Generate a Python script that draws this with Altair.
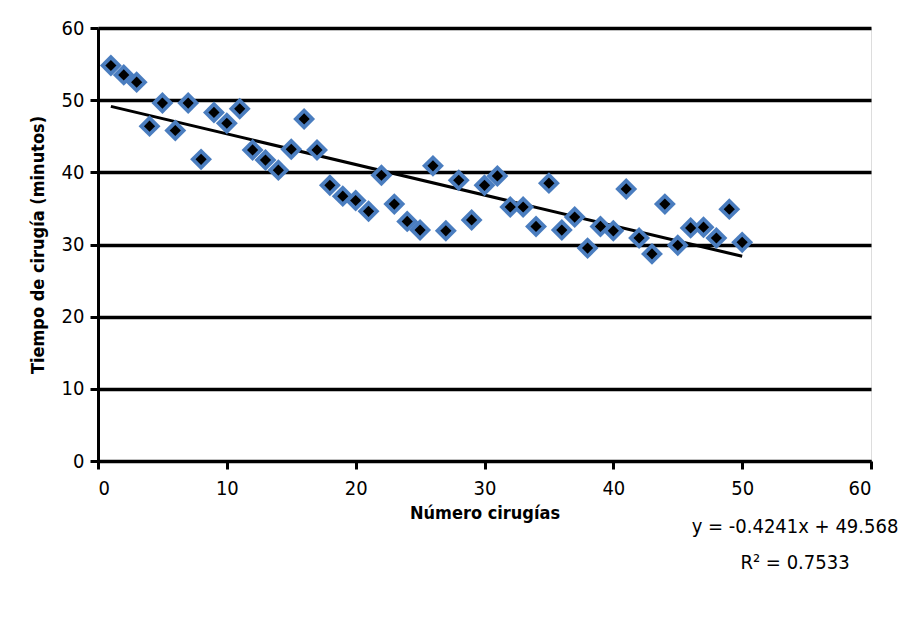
import altair as alt
import pandas as pd

surgery_no = list(range(1, 51))
minutes = [54.8, 53.5, 52.5, 46.4, 49.6, 45.8, 49.6, 41.8, 48.3, 46.8,
           48.8, 43.1, 41.7, 40.3, 43.2, 47.4, 43.1, 38.2, 36.7, 36.1,
           34.6, 39.6, 35.6, 33.2, 32.0, 40.9, 31.9, 38.9, 33.4, 38.2,
           39.5, 35.2, 35.2, 32.5, 38.5, 32.0, 33.8, 29.5, 32.5, 31.9,
           37.7, 30.9, 28.7, 35.6, 29.9, 32.3, 32.4, 30.9, 34.9, 30.3]
slope = -0.4241
intercept = 49.568
trend_x = [1, 50]
eq_lines = ["y = -0.4241x + 49.568", "R\u00b2 = 0.7533"]

FONT = "DejaVu Sans Condensed, Liberation Sans Narrow, Liberation Sans, sans-serif"

df = pd.DataFrame({"x": surgery_no, "y": minutes})
trend = pd.DataFrame({"x": trend_x, "y": [slope * v + intercept for v in trend_x]})

xs = alt.Scale(domain=[0, 60], nice=False, zero=False)
ys = alt.Scale(domain=[0, 60], nice=False)

xaxis = alt.Axis(values=list(range(0, 61, 10)), title="Número cirugías", grid=False,
                 domainColor="black", domainWidth=3, tickColor="black", tickWidth=3,
                 tickSize=8, labelFont=FONT, labelFontSize=20, labelColor="black",
                 labelPadding=9, titleFont=FONT, titleFontSize=18, titleFontWeight="bold",
                 titleColor="black", titlePadding=6)
yaxis = alt.Axis(values=list(range(0, 61, 10)), title="Tiempo de cirugía (minutos)", grid=True,
                 gridColor="black", gridWidth=3.5, gridOpacity=1,
                 domainColor="black", domainWidth=3, tickColor="black", tickWidth=3,
                 tickSize=8, labelFont=FONT, labelFontSize=20, labelColor="black",
                 labelPadding=6, titleFont=FONT, titleFontSize=18, titleFontWeight="bold",
                 titleColor="black", titlePadding=14)

base = alt.Chart(df)
outer = base.mark_point(shape="diamond", filled=True, color="#4a7dbf", size=480, opacity=1).encode(
    x=alt.X("x:Q", scale=xs, axis=xaxis),
    y=alt.Y("y:Q", scale=ys, axis=yaxis),
)
inner = base.mark_point(shape="diamond", filled=True, color="black", size=125, opacity=1).encode(
    x=alt.X("x:Q", scale=xs), y=alt.Y("y:Q", scale=ys)
)
line = alt.Chart(trend).mark_line(color="black", strokeWidth=3).encode(
    x=alt.X("x:Q", scale=xs), y=alt.Y("y:Q", scale=ys)
)
eq = alt.Chart(pd.DataFrame({"t": [eq_lines[0]]})).mark_text(
    font=FONT, fontSize=20, color="black", align="center", baseline="middle"
).encode(text="t:N", x=alt.value(697), y=alt.value(499))
r2 = alt.Chart(pd.DataFrame({"t": [eq_lines[1]]})).mark_text(
    font=FONT, fontSize=20, color="black", align="center", baseline="middle"
).encode(text="t:N", x=alt.value(697), y=alt.value(535))

chart = alt.layer(line, outer, inner, eq, r2).properties(
    width=773, height=433,
    autosize=alt.AutoSizeParams(type="none"),
    padding={"left": 90, "top": 20, "right": 30, "bottom": 140},
).configure_view(stroke=None).configure(background="white")

chart.save("out.html", embed_options={"renderer": "svg", "actions": False})
